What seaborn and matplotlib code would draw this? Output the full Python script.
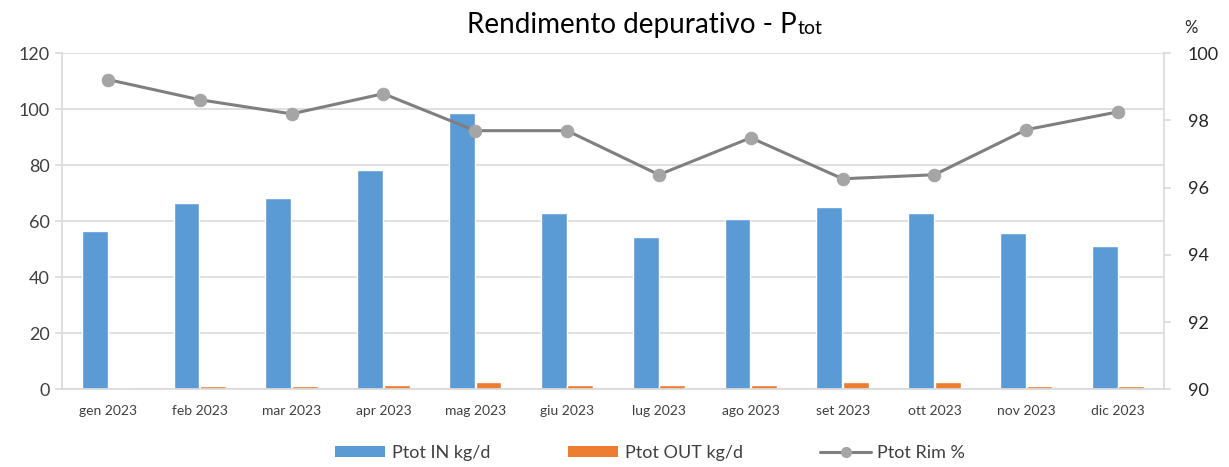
import numpy as np
import pandas as pd
import matplotlib
matplotlib.use("Agg")
import matplotlib.pyplot as plt
from matplotlib.patches import Patch
from matplotlib.lines import Line2D
import seaborn as sns

months = ["gen 2023", "feb 2023", "mar 2023", "apr 2023", "mag 2023", "giu 2023",
          "lug 2023", "ago 2023", "set 2023", "ott 2023", "nov 2023", "dic 2023"]
ptot_in = [56.5, 66.3, 68.4, 78.3, 98.7, 63.0, 54.5, 60.9, 65.0, 63.0, 55.8, 51.0]
ptot_out = [0.2, 1.0, 1.0, 1.7, 2.5, 1.7, 1.7, 1.7, 2.5, 2.5, 1.0, 1.0]
ptot_rim = [99.21, 98.61, 98.19, 98.79, 97.69, 97.69, 96.38, 97.48, 96.26, 96.38, 97.72, 98.25]

C_IN = "#5b9bd5"
C_OUT = "#ed7d31"
C_LINE = "#7f7f7f"
C_MARK = "#a5a5a5"

sns.set_style("white")
plt.rcParams["font.family"] = ["Lato", "DejaVu Sans"]

df = pd.DataFrame({
    "mese": months * 2,
    "valore": ptot_in + ptot_out,
    "serie": ["Ptot IN kg/d"] * 12 + ["Ptot OUT kg/d"] * 12,
})

fig = plt.figure(figsize=(12.29, 4.67), dpi=100)
ax = fig.add_axes([62 / 1229, 1 - 389.3 / 467, (1164 - 62) / 1229, (389.3 - 53) / 467])

sns.barplot(data=df, x="mese", y="valore", hue="serie", palette=[C_IN, C_OUT],
            width=0.58, gap=0.03, ax=ax, legend=False, saturation=1)
ax.set_xlim(-0.5, 11.5)
ax.set_ylim(0, 120)
ax.set_yticks(np.arange(0, 121, 20))
ax.set_xlabel("")
ax.set_ylabel("")
ax.yaxis.grid(True, color="#d9d9d9", linewidth=1.2)
ax.set_axisbelow(True)
for s in ["top", "right"]:
    ax.spines[s].set_visible(False)
ax.spines["left"].set_color("#d9d9d9")
ax.spines["bottom"].set_color("#d9d9d9")
ax.spines["left"].set_linewidth(1.2)
ax.spines["bottom"].set_linewidth(1.2)
ax.tick_params(axis="y", labelsize=13, colors="#d9d9d9", labelcolor="#404040", length=5, width=1.2, pad=4)
ax.tick_params(axis="x", which="major", length=0, labelsize=10, labelcolor="#404040", pad=11)
ax.set_xticks(np.arange(-0.5, 12, 1), minor=True)
ax.tick_params(axis="x", which="minor", length=5, width=1.2, colors="#d9d9d9")

ax2 = ax.twinx()
sns.lineplot(x=np.arange(len(months)), y=ptot_rim, ax=ax2, color=C_LINE, linewidth=2.2,
             marker="o", markersize=9, markerfacecolor=C_MARK, markeredgecolor=C_MARK)
ax2.set_ylim(90, 100)
ax2.set_yticks(np.arange(90, 101, 2))
for s in ["top", "left", "bottom"]:
    ax2.spines[s].set_visible(False)
ax2.spines["right"].set_color("#d9d9d9")
ax2.spines["right"].set_linewidth(1.2)
ax2.tick_params(axis="y", labelsize=13, colors="#d9d9d9", labelcolor="#262626", length=5, width=1.2, pad=12)
ax2.grid(False)

# title: "tot" drawn smaller, right after the P
fig.text(797 / 1229, 1 - 33 / 467, "Rendimento depurativo - P",
         ha="right", va="baseline", fontsize=20, color="#000000")
fig.text(798 / 1229, 1 - 34 / 467, "tot",
         ha="left", va="baseline", fontsize=14, color="#000000")
fig.text(1184 / 1229, 1 - 28 / 467, "%", ha="left", va="center", fontsize=12, color="#262626")

handles = [
    Patch(facecolor=C_IN, edgecolor="none", label="Ptot IN kg/d"),
    Patch(facecolor=C_OUT, edgecolor="none", label="Ptot OUT kg/d"),
    Line2D([0], [0], color=C_LINE, linewidth=2.2, marker="o", markersize=7,
           markerfacecolor=C_MARK, markeredgecolor=C_MARK, label="Ptot Rim %"),
]
fig.legend(handles=handles, loc="center", bbox_to_anchor=(650 / 1229, 1 - 453 / 467), ncol=3,
           frameon=False, fontsize=13, handlelength=2.8, handleheight=0.6,
           columnspacing=4.3, handletextpad=0.35, labelcolor="#404040")

plt.savefig("out.png", dpi=100)
plt.close()
